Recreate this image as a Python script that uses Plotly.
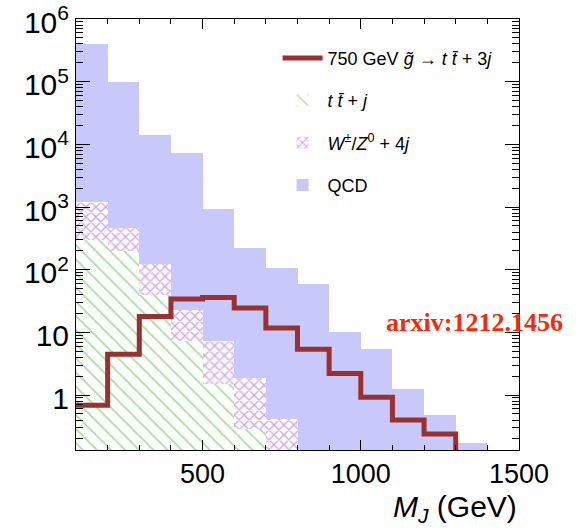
import numpy as np
import plotly.graph_objects as go

# ---- data ----
bin_edges = [100, 200, 300, 400, 500, 600, 700, 800, 900, 1000, 1100, 1200, 1300, 1400, 1500]
qcd = [4.0e5, 1.0e5, 1.4e4, 7.2e3, 920, 225, 107, 59, 10.3, 5.4, 1.23, 0.48, 0.17]
wz = [1200, 467, 124, 23, 7.3, 1.86, 0.41]
ttbar = [300, 200, 39, 7.3, 1.48, 0.29]
signal = [0.69, 4.5, 18, 34, 36, 24.5, 11.8, 5.4, 2.2, 0.92, 0.40, 0.24]

ytick_vals = [1, 10, 100, 1000, 1e4, 1e5, 1e6]
ytick_text = ["1", "10", "10<sup>2</sup>", "10<sup>3</sup>", "10<sup>4</sup>", "10<sup>5</sup>", "10<sup>6</sup>"]
xtick_vals = [500, 1000, 1500]

centers = [(a + b) / 2 for a, b in zip(bin_edges[:-1], bin_edges[1:])]
width = bin_edges[1] - bin_edges[0]

blue = "#C8C8FA"
purple = "#A545E0"
green = "#3FC02C"
red = "#993131"

fig = go.Figure()
fig.add_trace(go.Bar(
    x=centers[:len(qcd)], y=qcd, width=width, name="QCD",
    marker=dict(color=blue, line=dict(width=0)), legendgroup="d", legendrank=4,
))
fig.add_trace(go.Bar(
    x=centers[:len(wz)], y=wz, width=width,
    name="<i>W</i><sup>±</sup>/<i>Z</i><sup>0</sup> + 4<i>j</i>",
    marker=dict(color="white", line=dict(width=0),
                pattern=dict(shape="x", fgcolor=purple, bgcolor="white", size=7, solidity=0.35)),
    legendgroup="c", legendrank=3,
))
fig.add_trace(go.Bar(
    x=centers[:len(ttbar)], y=ttbar, width=width,
    name="<i>t t\u0304</i> + <i>j</i>",
    marker=dict(color="white", line=dict(width=0),
                pattern=dict(shape="\\", fgcolor=green, bgcolor="white", size=10, solidity=0.16)),
    legendgroup="b", legendrank=2,
))

sx = bin_edges[:len(signal) + 1] + [bin_edges[len(signal)]]
sy = signal + [signal[-1], 1e-3]
fig.add_trace(go.Scatter(
    x=sx, y=sy, mode="lines", line=dict(color=red, width=5, shape="hv"),
    name="750 GeV <i>g\u0303</i> \u2192 <i>t t\u0304</i> + 3<i>j</i>",
    legendgroup="a", legendrank=1,
))

yminor = [m * 10.0 ** d for d in range(-1, 6) for m in range(2, 10)]

fig.update_layout(
    width=578, height=531,
    margin=dict(l=76, r=59, t=19, b=81),
    paper_bgcolor="white", plot_bgcolor="white",
    barmode="overlay", bargap=0,
    font=dict(family="Liberation Sans, Arial, sans-serif", color="black"),
    showlegend=True,
    legend=dict(x=0.455, y=0.952, xanchor="left", yanchor="top",
                traceorder="grouped", font=dict(size=18),
                bgcolor="rgba(0,0,0,0)", tracegroupgap=16, itemwidth=40),
    annotations=[
        dict(text="<b>arxiv:1212.1456</b>", x=0.90, y=0.295, xref="paper", yref="paper",
             xanchor="center", yanchor="middle", showarrow=False,
             font=dict(family="Liberation Serif, serif", size=26, color="#F52A0A")),
        dict(text="<i>M<sub>J</sub></i> (GeV)", x=1.0, y=-0.135, xref="paper", yref="paper",
             xanchor="right", yanchor="middle", showarrow=False,
             font=dict(size=30)),
    ],
)
fig.update_xaxes(
    range=[bin_edges[0], bin_edges[-1]], showgrid=False, zeroline=False,
    showline=True, linecolor="black", linewidth=1, mirror="ticks",
    ticks="inside", ticklen=10, tickcolor="black", automargin=False,
    tickmode="array", tickvals=xtick_vals, tickfont=dict(size=27),
    minor=dict(ticks="inside", ticklen=5, tickcolor="black", tickmode="array",
               tickvals=bin_edges, showgrid=False),
)
fig.update_yaxes(
    type="log", range=[np.log10(0.133), 6.0005], showgrid=False, zeroline=False,
    showline=True, linecolor="black", linewidth=1, mirror="ticks",
    ticks="inside", ticklen=14, tickcolor="black", automargin=False,
    tickmode="array", tickvals=ytick_vals, ticktext=ytick_text, tickfont=dict(size=30),
    ticklabeloverflow="allow", ticklabelshift=3,
    minor=dict(ticks="inside", ticklen=7, tickcolor="black", tickmode="array",
               tickvals=yminor, showgrid=False),
)

fig.write_html("out.html")
